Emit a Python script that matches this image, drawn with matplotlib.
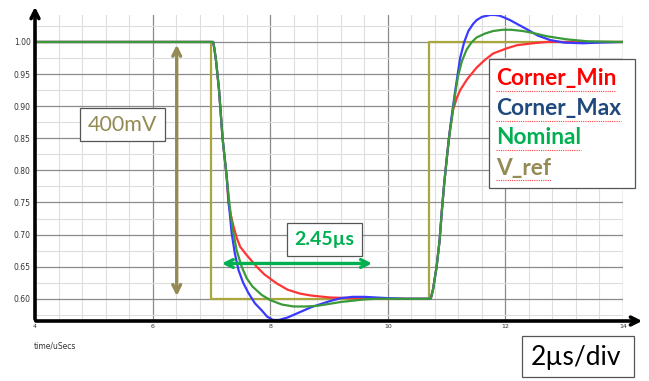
import matplotlib.pyplot as plt
from matplotlib.patches import Rectangle
import numpy as np

# --- data ---
vref_t = [4.0, 7.0, 7.0, 10.7, 10.7, 14.0]
vref_v = [1.0, 1.0, 0.6, 0.6, 1.0, 1.0]

red_t = [4.0, 7.03, 7.05, 7.08, 7.13, 7.19, 7.26, 7.29, 7.33, 7.37, 7.43, 7.49, 7.6, 7.77, 7.9,
         8.11, 8.3, 8.51, 8.7, 9.02, 9.4, 9.8, 10.73, 10.77, 10.83, 10.88, 10.92, 10.96, 11.0,
         11.04, 11.06, 11.11, 11.17, 11.23, 11.35, 11.51, 11.65, 11.79, 12.02, 12.2, 12.47, 12.7, 14.0]
red_v = [1.0, 1.0, 0.99, 0.97, 0.925, 0.85, 0.79, 0.749, 0.73, 0.715, 0.695, 0.681, 0.668, 0.65, 0.638,
         0.624, 0.614, 0.608, 0.605, 0.602, 0.601, 0.600, 0.600, 0.615, 0.65, 0.69, 0.738, 0.78, 0.816,
         0.85, 0.865, 0.894, 0.912, 0.925, 0.942, 0.96, 0.972, 0.982, 0.99, 0.995, 0.998, 1.0, 1.0]

blue_t = [4.0, 7.03, 7.05, 7.08, 7.13, 7.19, 7.26, 7.3, 7.345, 7.4, 7.46, 7.54, 7.63, 7.74, 7.855,
          7.95, 8.05, 8.15, 8.3, 8.5, 8.7, 9.0, 9.2, 9.4, 9.6, 9.8, 10.0, 10.3, 10.73, 10.77, 10.83,
          10.88, 10.92, 10.96, 11.0, 11.04, 11.08, 11.14, 11.23, 11.3, 11.37, 11.45, 11.51, 11.6,
          11.74, 11.82, 11.9, 11.98, 12.08, 12.2, 12.36, 12.55, 12.76, 13.0, 13.32, 13.6, 14.0]
blue_v = [1.0, 1.0, 0.99, 0.97, 0.925, 0.85, 0.79, 0.745, 0.702, 0.67, 0.645, 0.625, 0.609, 0.593, 0.582,
          0.572, 0.567, 0.567, 0.571, 0.579, 0.587, 0.596, 0.601, 0.603, 0.603, 0.602, 0.601, 0.600, 0.600,
          0.615, 0.65, 0.69, 0.738, 0.78, 0.816, 0.85, 0.88, 0.92, 0.975, 1.0, 1.017, 1.028, 1.034,
          1.039, 1.042, 1.042, 1.041, 1.038, 1.034, 1.028, 1.02, 1.01, 1.003, 0.999, 0.998, 0.999, 1.0]

green_t = [4.0, 7.03, 7.05, 7.08, 7.13, 7.19, 7.26, 7.31, 7.36, 7.43, 7.515, 7.6, 7.7, 7.855, 8.0,
           8.2, 8.4, 8.6, 8.8, 9.0, 9.2, 9.4, 9.6, 9.8, 10.73, 10.77, 10.83, 10.88, 10.92, 10.96,
           11.0, 11.04, 11.08, 11.13, 11.19, 11.26, 11.34, 11.42, 11.51, 11.65, 11.79, 11.95, 12.1,
           12.3, 12.47, 12.7, 13.05, 13.4, 14.0]
green_v = [1.0, 1.0, 0.99, 0.97, 0.925, 0.85, 0.79, 0.745, 0.71, 0.675, 0.65, 0.632, 0.619, 0.606, 0.598,
           0.591, 0.588, 0.588, 0.589, 0.592, 0.595, 0.597, 0.599, 0.600, 0.600, 0.615, 0.65, 0.69, 0.738,
           0.78, 0.816, 0.85, 0.875, 0.91, 0.945, 0.97, 0.988, 0.999, 1.007, 1.013, 1.017, 1.019, 1.019,
           1.017, 1.014, 1.009, 1.004, 1.001, 1.0]

legend_names = ['Corner_Min', 'Corner_Max', 'Nominal', 'V_ref']
legend_colors = ['#FF0000', '#1F497D', '#00B050', '#948A54']

W, H = 649, 381


def fx(px):
    return px / W


def fy(py):
    return 1 - py / H


fig = plt.figure(figsize=(W / 100, H / 100), dpi=100)
ax = fig.add_axes([fx(35), fy(321), (623 - 35) / W, (321 - 15) / H])
ax.set_xlim(4, 14)
ax.set_ylim(0.5654, 1.042)

ax.set_xticks(np.arange(4, 14.1, 2))
ax.set_xticks(np.arange(4, 14.01, 0.4), minor=True)
ax.set_yticks(np.arange(0.60, 1.001, 0.05))
ax.set_yticks(np.arange(0.575, 1.04, 0.025), minor=True)
ax.set_yticklabels(['%.2f' % v for v in np.arange(0.60, 1.001, 0.05)])
ax.grid(which='major', color='#8a8a8a', lw=0.9)
ax.grid(which='minor', color='#dedede', lw=0.8)
ax.set_axisbelow(True)
ax.tick_params(which='both', length=0)
ax.tick_params(axis='y', labelsize=5.5, pad=3, labelcolor='#333333')
ax.tick_params(axis='x', labelsize=4.5, pad=2, labelcolor='#333333')
for s in ax.spines.values():
    s.set_visible(False)

ax.plot(vref_t, vref_v, color='#A8A63C', lw=1.6)
ax.plot(red_t, red_v, color='#FF3535', lw=1.6)
ax.plot(blue_t, blue_v, color='#3A3AFF', lw=1.6)
ax.plot(green_t, green_v, color='#3A9A3A', lw=1.6)

# axis arrows
ax.annotate('', xy=(fx(35), fy(4)), xytext=(fx(35), fy(322)), xycoords='figure fraction',
            arrowprops=dict(arrowstyle='->', lw=2.6, color='black', mutation_scale=14))
ax.annotate('', xy=(fx(645), fy(321)), xytext=(fx(33), fy(321)), xycoords='figure fraction',
            arrowprops=dict(arrowstyle='->', lw=2.6, color='black', mutation_scale=14))

# annotation arrows
ax.annotate('', xy=(6.41, 1.0), xytext=(6.41, 0.6),
            arrowprops=dict(arrowstyle='<->', lw=2.4, color='#948A54', mutation_scale=14))
ax.annotate('', xy=(7.13, 0.655), xytext=(9.78, 0.655),
            arrowprops=dict(arrowstyle='<->', lw=2.4, color='#00B050', mutation_scale=14))


def box(x0, y0, x1, y1):
    fig.patches.append(Rectangle((fx(x0), fy(y1)), (x1 - x0) / W, (y1 - y0) / H,
                                 transform=fig.transFigure, facecolor='white',
                                 edgecolor='#555555', lw=0.9, zorder=5))


box(80, 108, 165, 141)
fig.text(fx(122.5), fy(125), '400mV', color='#948A54', fontsize=15.5, family='Lato',
         ha='center', va='center', zorder=6)
box(287, 223, 362, 256)
fig.text(fx(324.5), fy(240), '2.45µs', color='#00B050', fontsize=14, family='Lato',
         weight='bold', ha='center', va='center', zorder=6)
box(522, 336, 634, 377)
fig.text(fx(576), fy(357), '2µs/div', color='black', fontsize=19, family='Lato',
         ha='center', va='center', zorder=6)

fig.text(fx(34), fy(346), 'time/uSecs', fontsize=5.5, color='#333333', va='center')

# legend box
box(489, 59, 635, 188)
ys = [79, 109, 138, 168]
texts = []
for name, c, py in zip(legend_names, legend_colors, ys):
    texts.append(fig.text(fx(496), fy(py), name, color=c, fontsize=16.3, family='Lato',
                          weight='bold', va='center', ha='left', zorder=6))

fig.canvas.draw()
r = fig.canvas.get_renderer()
for t in texts:
    bb = t.get_window_extent(r)
    yline = bb.y0 - 1
    fig.lines.append(plt.Line2D([bb.x0 / W, bb.x1 / W], [yline / H, yline / H],
                                transform=fig.transFigure, color='#FF4040', lw=0.8,
                                ls=(0, (1, 1)), zorder=7))

fig.savefig('out.png', dpi=100)
